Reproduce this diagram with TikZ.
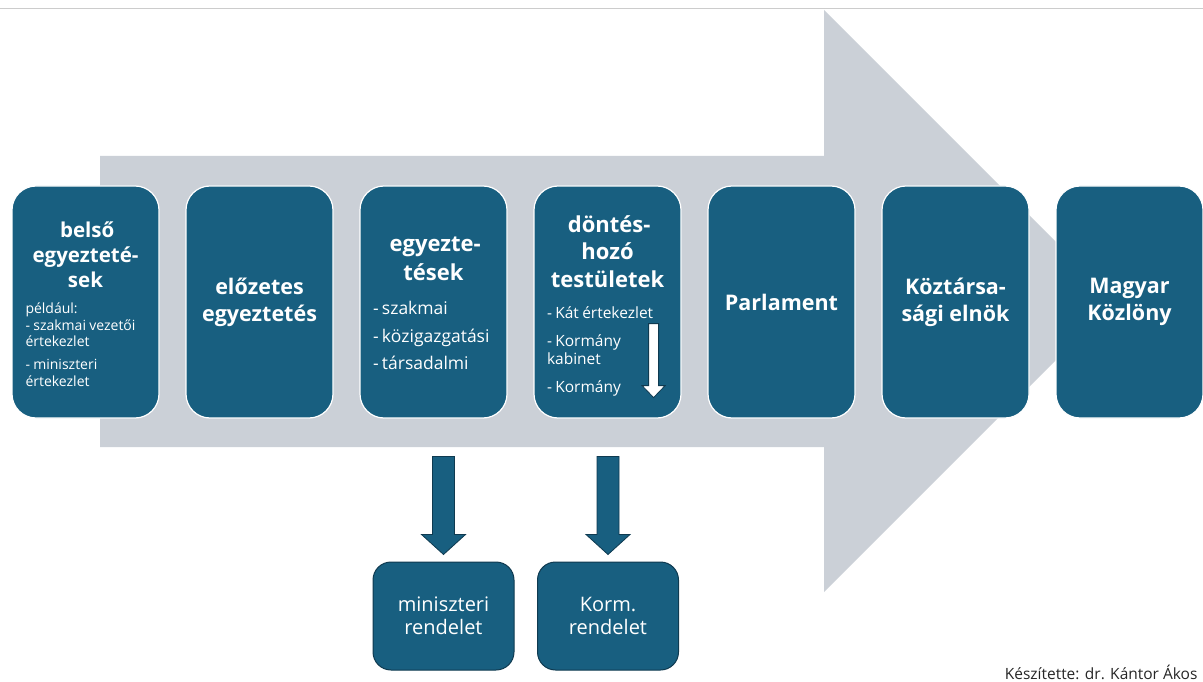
\documentclass[tikz,border=0pt]{standalone}
\usepackage{fontspec}
\setmainfont{Open Sans}
\usetikzlibrary{positioning,calc}
\definecolor{boxblue}{HTML}{185F80}
\definecolor{arrowgray}{HTML}{CBD0D7}
\definecolor{edgedark}{HTML}{0F3A50}
\newcommand{\fs}[2]{\fontsize{#1}{#2}\selectfont}

\begin{document}
\begin{tikzpicture}[x=1pt, y=-1pt,
    stage/.style={fill=boxblue, draw=white, line width=1.2pt, rounded corners=24pt,
        minimum width=147pt, minimum height=232pt, inner sep=0pt, text=white, align=center},
    stagetext/.style={text=white, inner sep=0pt, align=left},
    result/.style={fill=boxblue, draw=edgedark, line width=1pt, rounded corners=18pt,
        minimum width=141pt, minimum height=108pt, text=white, align=center, font=\fs{20}{23}},
    downarrow/.style={fill=boxblue, draw=edgedark, line width=0.8pt},
    head/.style={font=\bfseries\fs{21.5}{27}}]
            \useasboundingbox (0, 0) rectangle (1203, 682);
            \draw[black!20, line width=1pt] (0, 9) -- (1203, 9);

            % the big grey arrow behind the stages
            \fill[arrowgray] (100, 156) -- (824, 156) -- (824, 10) -- (1115, 301)
                -- (824, 592) -- (824, 447) -- (100, 447) -- cycle;

            \node[stage] (belso) at (85.5, 302) {};
            \node[stage, head] (elozetes) at (259.5, 302) {előzetes\\egyeztetés};
            \node[stage] (egyeztetes) at (433.5, 302) {};
            \node[stage] (donteshozo) at (607.5, 302) {};
            \node[stage, head] (parlament) at (781.5, 302) {Parlament};
            \node[stage, head] (elnok) at (955.5, 302) {Köztársa-\\sági elnök};
            \node[stage, head] (kozlony) at (1129.5, 302) {Magyar\\Közlöny};

            \node[stagetext, text width=120pt] (belso text) at ($(belso.center) + (0, 2)$) {%
                {\centering\bfseries\fs{20.5}{25} belső\\egyezteté-\\sek\par}
                \vspace{9pt}
                {\raggedright\fs{14}{16.8} például:\\-~szakmai vezetői\\értekezlet\\[5.5pt]-~miniszteri\\értekezlet\par}};
            \node[stagetext, text width=121pt] (egyeztetes text) at ($(egyeztetes.center) + (0, 1.5)$) {%
                {\centering\bfseries\fs{22}{29} egyezte-\\tések\par}
                \vspace{7pt}
                {\raggedright\fs{17.5}{27.5} -~szakmai\\-~közigazgatási\\-~társadalmi\par}};
            \node[stagetext, text width=121pt] (donteshozo text) at ($(donteshozo.center) + (0, 3.5)$) {%
                {\centering\bfseries\fs{22}{27.5} döntés-\\hozó\\testületek\par}
                \vspace{13pt}
                {\raggedright\fs{15.5}{18} -~Kát értekezlet\\[10pt]-~Kormány\\kabinet\\[10pt]-~Kormány\par}};

            % white arrow inside the decision box
            \coordinate (wtip) at ($(donteshozo.south east) + (-28, -21)$);
            \draw[fill=white, draw=edgedark, line width=0.8pt] (wtip) -- ++(-11.5, -12) -- ++(6.5, 0)
                -- ++(0, -62) -- ++(10, 0) -- ++(0, 62) -- ++(6.5, 0) -- cycle;

            \node[result] (minrend) at (443.5, 616) {miniszteri\\rendelet};
            \node[result] (kormrend) at (608, 616) {Korm.\\rendelet};

            \coordinate[above=7pt of minrend] (tipa);
            \coordinate[above=7pt of kormrend] (tipb);
            \foreach \t in {tipa, tipb}
                \draw[downarrow] (\t) -- ++(-22, -20) -- ++(11, 0) -- ++(0, -78) -- ++(22, 0)
                    -- ++(0, 78) -- ++(11, 0) -- cycle;

            \node[anchor=east, text=black!85, font=\fs{15.5}{17}] (keszitette) at (1201, 672)
                {Készítette: dr. Kántor Ákos};
\end{tikzpicture}
\end{document}
